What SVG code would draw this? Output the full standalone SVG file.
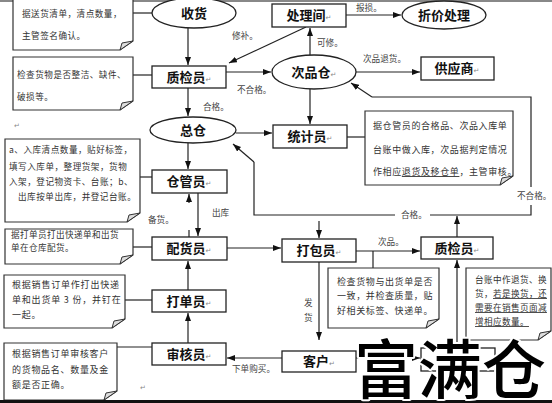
<svg xmlns="http://www.w3.org/2000/svg" width="552" height="403" viewBox="0 0 552 403">
<style>
.bg{fill:#fff}
.box{fill:#fff;stroke:#222;stroke-width:1.3}
.note{fill:#fff;stroke:#333;stroke-width:1.2}
.fold{fill:#ddd;stroke:#333;stroke-width:1}
.ln{fill:none;stroke:#222;stroke-width:1.2}
.arr{fill:none;stroke:#222;stroke-width:1.2;marker-end:url(#ah)}
.lbl{font-family:"Noto Sans CJK SC","Noto Sans",sans-serif;font-size:13px;font-weight:bold;fill:#111;text-anchor:middle}
.nt{font-family:"Noto Sans CJK SC","Noto Sans",sans-serif;font-size:8.6px;fill:#333;letter-spacing:0.5px}
.cl{font-family:"Noto Sans CJK SC","Noto Sans",sans-serif;font-size:8.6px;fill:#444}
.pm{font-family:"DejaVu Sans",sans-serif;font-size:7px;font-weight:normal;fill:#888}
.ul{text-decoration:underline}
.wm{font-family:"Noto Sans CJK SC",sans-serif;font-size:64px;font-weight:500;fill:#000;stroke:#fff;stroke-width:4;paint-order:stroke;stroke-linejoin:round}
</style>
<defs>
<marker id="ah" markerWidth="8" markerHeight="6" refX="8" refY="3" orient="auto" markerUnits="userSpaceOnUse"><path d="M0,0 L8,3 L0,6 Z" fill="#111"/></marker>
</defs>
<rect class="bg" x="0" y="0" width="552" height="403"/>
<rect x="0" y="0" width="552" height="2" fill="#888"/>

<g id="connectors">
<line class="ln" x1="133" y1="13" x2="152" y2="13"/>
<line class="arr" x1="188" y1="28" x2="188" y2="65"/>
<line class="ln" x1="133" y1="75" x2="152" y2="75"/>
<line class="arr" x1="306" y1="27" x2="229" y2="63"/>
<text class="cl" x="232" y="39">修补。</text>
<line class="arr" x1="346" y1="15" x2="401" y2="15"/>
<text class="cl" x="356" y="11">报损。</text>
<line class="arr" x1="226" y1="72" x2="271" y2="72"/>
<text class="cl" x="237" y="93">不合格。</text>
<line class="arr" x1="310" y1="55" x2="310" y2="28"/>
<text class="cl" x="317" y="46">可修。</text>
<line class="arr" x1="356" y1="72" x2="420" y2="72"/>
<text class="cl" x="363" y="62">次品退货。</text>
<line class="arr" x1="310" y1="89" x2="310" y2="124"/>
<line class="arr" x1="188" y1="88" x2="188" y2="116"/>
<text class="cl" x="203" y="110">合格。</text>
<line class="arr" x1="236" y1="133" x2="272" y2="133"/>
<line class="ln" x1="347" y1="137" x2="365" y2="137"/>
<line class="arr" x1="188" y1="143" x2="188" y2="169"/>
<line class="ln" x1="140" y1="177" x2="152" y2="177"/>
<line class="arr" x1="198" y1="193" x2="198" y2="236"/>
<text class="cl" x="212" y="216">出库</text>
<line class="arr" x1="189" y1="203" x2="189" y2="194"/>
<line class="ln" x1="189" y1="230" x2="189" y2="237"/>
<text class="cl" x="148" y="223">备货。</text>
<line class="ln" x1="133" y1="247" x2="152" y2="247"/>
<line class="arr" x1="227" y1="248" x2="281" y2="248"/>
<line class="arr" x1="356" y1="251" x2="420" y2="251"/>
<text class="cl" x="378" y="245">次品。</text>
<line class="ln" x1="373" y1="251" x2="373" y2="268"/>
<line class="arr" x1="319" y1="262" x2="319" y2="340"/>
<text class="cl" x="304" y="306">发</text>
<text class="cl" x="304" y="321">货</text>
<line class="arr" x1="282" y1="358" x2="227" y2="358"/>
<text class="cl" x="232" y="372">下单购买。</text>
<line class="arr" x1="188" y1="343" x2="188" y2="313"/>
<line class="arr" x1="188" y1="290" x2="188" y2="261"/>
<line class="ln" x1="125" y1="300" x2="152" y2="300"/>
<line class="ln" x1="117" y1="347" x2="152" y2="347"/>
<line class="arr" x1="457" y1="237" x2="457" y2="216"/>
<polyline class="ln" points="395,215 254,215 254,162"/>
<line class="arr" x1="254" y1="162" x2="233" y2="144"/>
<polyline class="ln" points="430,215 531,215 531,205"/>
<polyline class="ln" points="531,187 531,97 372,97"/>
<line class="arr" x1="372" y1="97" x2="351" y2="83"/>
<text class="cl" x="401" y="218">合格。</text>
<text class="cl" x="517" y="199">不合格。</text>
<line class="arr" x1="319" y1="221" x2="319" y2="238"/>
<line class="arr" x1="457" y1="348" x2="457" y2="260"/>
<line class="arr" x1="356" y1="358" x2="420" y2="358"/>
<text class="cl" x="382" y="371">退货。</text>
</g>

<g id="n-shouhuo"><ellipse class="box" cx="194" cy="13" rx="42" ry="15"/><text class="lbl" x="194" y="18">收货</text></g>
<g id="n-chulijian"><rect class="box" x="272" y="4" width="74" height="23"/><text class="lbl" x="309" y="20">处理间<tspan class="pm">↵</tspan></text></g>
<g id="n-zhejia"><ellipse class="box" cx="444" cy="15" rx="42" ry="14"/><text class="lbl" x="444" y="20">折价处理</text></g>
<g id="n-zhijian1"><rect class="box" x="152" y="66" width="74" height="22"/><text class="lbl" x="189" y="82">质检员<tspan class="pm">↵</tspan></text></g>
<g id="n-cipincang"><ellipse class="box" cx="314" cy="72" rx="42" ry="17"/><text class="lbl" x="314" y="77">次品仓<tspan class="pm">↵</tspan></text></g>
<g id="n-gongying"><rect class="box" x="421" y="57" width="73" height="23"/><text class="lbl" x="457" y="73">供应商<tspan class="pm">↵</tspan></text></g>
<g id="n-zongcang"><ellipse class="box" cx="193" cy="130" rx="43" ry="13"/><text class="lbl" x="193" y="135">总仓</text></g>
<g id="n-tongji"><rect class="box" x="273" y="125" width="74" height="23"/><text class="lbl" x="310" y="141">统计员<tspan class="pm">↵</tspan></text></g>
<g id="n-cangguan"><rect class="box" x="152" y="170" width="75" height="23"/><text class="lbl" x="189" y="186">仓管员<tspan class="pm">↵</tspan></text></g>
<g id="n-peihuo"><rect class="box" x="152" y="237" width="75" height="23"/><text class="lbl" x="189" y="253">配货员<tspan class="pm">↵</tspan></text></g>
<g id="n-dabao"><rect class="box" x="282" y="239" width="74" height="23"/><text class="lbl" x="319" y="255">打包员<tspan class="pm">↵</tspan></text></g>
<g id="n-zhijian2"><rect class="box" x="421" y="237" width="72" height="22"/><text class="lbl" x="457" y="253">质检员<tspan class="pm">↵</tspan></text></g>
<g id="n-dadan"><rect class="box" x="152" y="290" width="74" height="22"/><text class="lbl" x="189" y="306">打单员<tspan class="pm">↵</tspan></text></g>
<g id="n-shenhe"><rect class="box" x="152" y="343" width="74" height="22"/><text class="lbl" x="189" y="359">审核员<tspan class="pm">↵</tspan></text></g>
<g id="n-kehu"><rect class="box" x="282" y="351" width="74" height="21"/><text class="lbl" x="319" y="366">客户<tspan class="pm">↵</tspan></text></g>
<g id="n-hidden"><rect class="box" x="421" y="348" width="74" height="23"/></g>

<g id="note1"><path class="note" d="M13,-2 H133 V41 L120,50 H13 Z"/><path class="fold" d="M120,50 L133,41 L122,43 Z"/>
<text class="nt" x="22" y="17">据送货清单，清点数量，</text><text class="nt" x="22" y="39">主管签名确认。</text></g>
<g id="note2"><path class="note" d="M13,57 H133 V101 L120,110 H13 Z"/><path class="fold" d="M120,110 L133,101 L122,103 Z"/>
<text class="nt" x="17" y="78">检查货物是否整洁、缺件、</text><text class="nt" x="17" y="100">破损等。</text></g>
<g id="note3"><path class="note" d="M365,111 H513 V176 L500,185 H365 Z"/><path class="fold" d="M500,185 L513,176 L502,178 Z"/>
<text class="nt" x="373" y="129" style="font-size:9px;letter-spacing:0.6px">据仓管员的合格品、次品入库单</text>
<text class="nt" x="373" y="153" style="font-size:9px;letter-spacing:0.6px">台账中做入库，次品据判定情况</text>
<text class="nt" x="373" y="175" style="font-size:9px;letter-spacing:0.6px">作相应<tspan class="ul">退货及移仓单</tspan>，主管审核。</text></g>
<g id="note4"><path class="note" d="M5,139 H140 V213 L127,222 H5 Z"/><path class="fold" d="M127,222 L140,213 L129,215 Z"/>
<text class="nt" x="9" y="153">a、入库清点数量，贴好标签，</text>
<text class="nt" x="9" y="170">填写入库单，整理货架，货物</text>
<text class="nt" x="9" y="185">入架，登记物资卡、台账；b、</text>
<text class="nt" x="18" y="200">出库按单出库，并登记台账。</text></g>
<g id="note5"><path class="note" d="M5,229 H133 V255 L120,264 H5 Z"/><path class="fold" d="M120,264 L133,255 L122,257 Z"/>
<text class="nt" x="11" y="238" style="letter-spacing:0.4px">据打单员打出快递单和出货</text><text class="nt" x="11" y="251" style="letter-spacing:0.4px">单在仓库配货。</text></g>
<g id="note6"><path class="note" d="M328,268 H439 V319 L426,328 H328 Z"/><path class="fold" d="M426,328 L439,319 L428,321 Z"/>
<text class="nt" x="337" y="285" style="font-size:9px;letter-spacing:0.6px">检查货物与出货单是否</text>
<text class="nt" x="337" y="299" style="font-size:9px;letter-spacing:0.6px">一致，并检查质量，贴</text>
<text class="nt" x="337" y="314" style="font-size:9px;letter-spacing:0.6px">好相关标签、快递单。</text></g>
<g id="note7"><path class="note" d="M4,275 H125 V319 L112,328 H4 Z"/><path class="fold" d="M112,328 L125,319 L114,321 Z"/>
<text class="nt" x="12" y="288" style="font-size:9px;letter-spacing:0.8px">根据销售订单作打出快递</text>
<text class="nt" x="12" y="303" style="font-size:9px;letter-spacing:0.8px">单和出货单 3 份，并钉在</text>
<text class="nt" x="12" y="318" style="font-size:9px;letter-spacing:0.8px">一起。</text></g>
<g id="note8"><path class="note" d="M4,343 H117 V391 L104,400 H4 Z"/><path class="fold" d="M104,400 L117,391 L106,393 Z"/>
<text class="nt" x="12" y="357" style="font-size:9px;letter-spacing:0.7px">根据销售订单审核客户</text>
<text class="nt" x="12" y="373" style="font-size:9px;letter-spacing:0.7px">的货物品名、数量及金</text>
<text class="nt" x="12" y="388" style="font-size:9px;letter-spacing:0.7px">额是否正确。</text></g>
<g id="note9"><path class="note" d="M466,268 H551 V331 L538,340 H466 Z"/><path class="fold" d="M538,340 L551,331 L540,333 Z"/>
<text class="nt" x="475" y="283" style="font-size:8.6px;letter-spacing:0.4px">台账中作退货、换</text>
<text class="nt" x="475" y="297" style="font-size:8.6px;letter-spacing:0.4px">货，<tspan class="ul">若是换货，还</tspan></text>
<text class="nt" x="475" y="311" style="font-size:8.6px;letter-spacing:0.4px"><tspan class="ul">需要在销售页面减</tspan></text>
<text class="nt" x="475" y="325" style="font-size:8.6px;letter-spacing:0.4px"><tspan class="ul">增相应数量。</tspan></text></g>

<text class="pm" x="14" y="128">↵</text>
<text class="pm" x="140" y="390">↵</text>
<rect x="0" y="400" width="552" height="3" fill="#111"/>
<text class="wm" x="354" y="393">富满仓</text>
</svg>
